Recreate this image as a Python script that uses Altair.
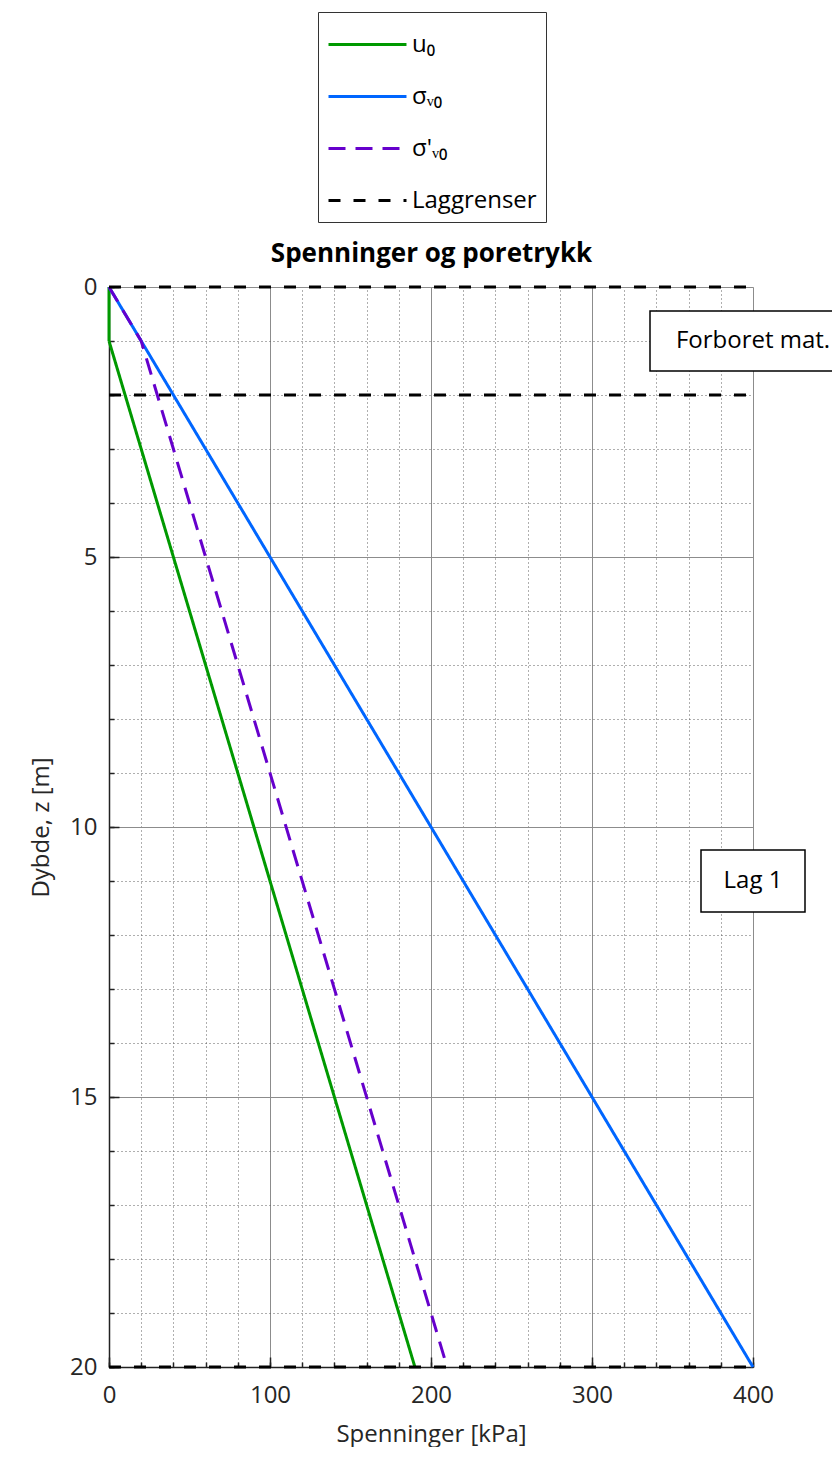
import altair as alt
import pandas as pd

FONT = "Open Sans"

# ---- data ----
series_names = ["u₀", "σᵥ₀", "σ'ᵥ₀", "Laggrenser"]
series_colors = ["#009900", "#0066ff", "#6600cc", "#000000"]
series_dash = [[1, 0], [1, 0], [17, 10], [12, 13]]

u0_z = [0, 1, 20]
u0_kpa = [0, 0, 190]
sv0_z = [0, 20]
sv0_kpa = [0, 400]
sve_z = [0, 1, 20]
sve_kpa = [0, 20, 210]

layer_z = [0, 2, 20]
layer_x_start = [0, 0, 0]
layer_x_end = [400, 400, 400]

ann_text = ["Forboret mat.", "Lag 1"]
ann_kpa = [400, 400]
ann_z = [1, 11]

chart_title = "Spenninger og poretrykk"
x_title = "Spenninger [kPa]"
y_title = "Dybde, z [m]"

x_ticks = [0, 20, 40, 60, 80, 100, 120, 140, 160, 180, 200, 220, 240, 260, 280,
           300, 320, 340, 360, 380, 400]
x_major = [0, 100, 200, 300, 400]
y_ticks = [0, 1, 2, 3, 4, 5, 6, 7, 8, 9, 10, 11, 12, 13, 14, 15, 16, 17, 18, 19, 20]
y_major = [0, 5, 10, 15, 20]

# ---- tables ----
rows = []
for name, zs, xs_ in [(series_names[0], u0_z, u0_kpa),
                      (series_names[1], sv0_z, sv0_kpa),
                      (series_names[2], sve_z, sve_kpa)]:
    for i, (z, x) in enumerate(zip(zs, xs_)):
        rows.append({"serie": name, "kpa": x, "z": z, "idx": i})
lines_df = pd.DataFrame(rows)

lag_df = pd.DataFrame({"serie": [series_names[3]] * len(layer_z), "z": layer_z,
                       "x0": layer_x_start, "x1": layer_x_end})

W, H = 644, 1080
xs = alt.Scale(domain=[0, 400], nice=False, zero=False)
ys = alt.Scale(domain=[0, 20], nice=False, zero=False, reverse=True)

legend = alt.Legend(
    title=None, orient="none", legendX=209, legendY=-275,
    symbolType="M-1,0H2.545", symbolSize=1936, symbolStrokeWidth=3,
    labelFont=FONT, labelFontSize=24, labelColor="black", labelOffset=38,
    padding=9, strokeColor="#333333", fillColor="white", rowPadding=16,
)
color = alt.Color("serie:N", scale=alt.Scale(domain=series_names, range=series_colors), legend=legend)
dash = alt.StrokeDash("serie:N", scale=alt.Scale(domain=series_names, range=series_dash), legend=legend)

main_x_axis = alt.Axis(
    values=x_ticks, labelExpr="datum.value % 100 === 0 ? datum.label : ''",
    title=x_title, titleFont=FONT, titleFontSize=24, titleFontWeight="normal",
    titleColor="#262626", titlePadding=15,
    labelFont=FONT, labelFontSize=24, labelColor="#262626", labelPadding=16,
    ticks=False, domain=True, domainColor="#222222", domainWidth=1.5,
    grid=True,
    gridColor={"condition": {"test": "datum.value % 100 === 0", "value": "#8c8c8c"}, "value": "#5e5e5e"},
    gridDash={"condition": {"test": "datum.value % 100 === 0", "value": []}, "value": [1, 3]},
    gridWidth=1, labelFlush=False,
)
main_y_axis = alt.Axis(
    values=y_ticks, labelExpr="datum.value % 5 === 0 ? datum.label : ''",
    title=y_title, titleFont=FONT, titleFontSize=24, titleFontWeight="normal",
    titleColor="#262626", titlePadding=16,
    labelFont=FONT, labelFontSize=24, labelColor="#262626", labelPadding=12,
    ticks=False, domain=True, domainColor="#222222", domainWidth=1.5,
    grid=True,
    gridColor={"condition": {"test": "datum.value % 5 === 0", "value": "#8c8c8c"}, "value": "#5e5e5e"},
    gridDash={"condition": {"test": "datum.value % 5 === 0", "value": []}, "value": [1, 3]},
    gridWidth=1, labelFlush=False,
)

lines = alt.Chart(lines_df).mark_line(strokeWidth=3, strokeCap="butt").encode(
    x=alt.X("kpa:Q", scale=xs, axis=main_x_axis),
    y=alt.Y("z:Q", scale=ys, axis=main_y_axis),
    color=color, strokeDash=dash, order=alt.Order("idx:Q"),
)

minor_x_axis = alt.Axis(values=x_ticks, orient="bottom", offset=-5, tickSize=5, tickWidth=1.5,
                        tickColor="#222222", domain=False, labels=False, grid=False, title=None)
minor_y_axis = alt.Axis(values=y_ticks, orient="left", offset=-5, tickSize=5, tickWidth=1.5,
                        tickColor="#222222", domain=False, labels=False, grid=False, title=None)
lag = alt.Chart(lag_df).mark_rule(strokeWidth=3, strokeCap="butt").encode(
    x=alt.X("x0:Q", scale=xs, axis=minor_x_axis), x2="x1:Q",
    y=alt.Y("z:Q", scale=ys, axis=minor_y_axis),
    color=color, strokeDash=dash,
)

major_x_axis = alt.Axis(values=x_major, orient="bottom", offset=-10, tickSize=10, tickWidth=1.5,
                        tickColor="#222222", domain=False, labels=False, grid=False, title=None)
major_y_axis = alt.Axis(values=y_major, orient="left", offset=-10, tickSize=10, tickWidth=1.5,
                        tickColor="#222222", domain=False, labels=False, grid=False, title=None)
# chart title carried by a top axis (title only)
title_axis = alt.Axis(orient="top", title=chart_title, titleFont=FONT, titleFontSize=26,
                      titleFontWeight="bold", titleColor="black", titlePadding=21,
                      labels=False, ticks=False, domain=False, grid=False)

box_w = [206, 104]
box_h = [60, 62]
ann_layers = []
for i in range(len(ann_text)):
    d = pd.DataFrame({"text": [ann_text[i]], "kpa": [ann_kpa[i]], "z": [ann_z[i]]})
    r = box_h[i] / box_w[i]
    path = f"M-1,{-r:.4f}H1V{r:.4f}H-1Z"
    if i == 0:
        xa, ya, txa = major_x_axis, major_y_axis, title_axis
    else:
        xa, ya, txa = None, None, None
    box = alt.Chart(d).mark_point(shape=path, size=box_w[i] ** 2, filled=True, fill="white",
                                  stroke="black", strokeWidth=1.5, opacity=1).encode(
        x=alt.X("kpa:Q", scale=xs, axis=xa), y=alt.Y("z:Q", scale=ys, axis=ya))
    txt = alt.Chart(d).mark_text(font=FONT, fontSize=24, color="black", align="center",
                                 baseline="middle").encode(
        x=alt.X("kpa:Q", scale=xs, axis=txa), y=alt.Y("z:Q", scale=ys, axis=None), text="text:N")
    ann_layers += [box, txt]

chart = alt.layer(lines, lag, *ann_layers).resolve_axis(x="independent", y="independent").properties(
    width=W, height=H,
    autosize=alt.AutoSizeParams(type="none"),
    padding={"left": 101, "top": 279, "right": 79, "bottom": 80},
).configure_view(stroke="#808080", strokeWidth=1).configure(background="white")

chart.save("out.html", embed_options={"renderer": "svg", "actions": False})
